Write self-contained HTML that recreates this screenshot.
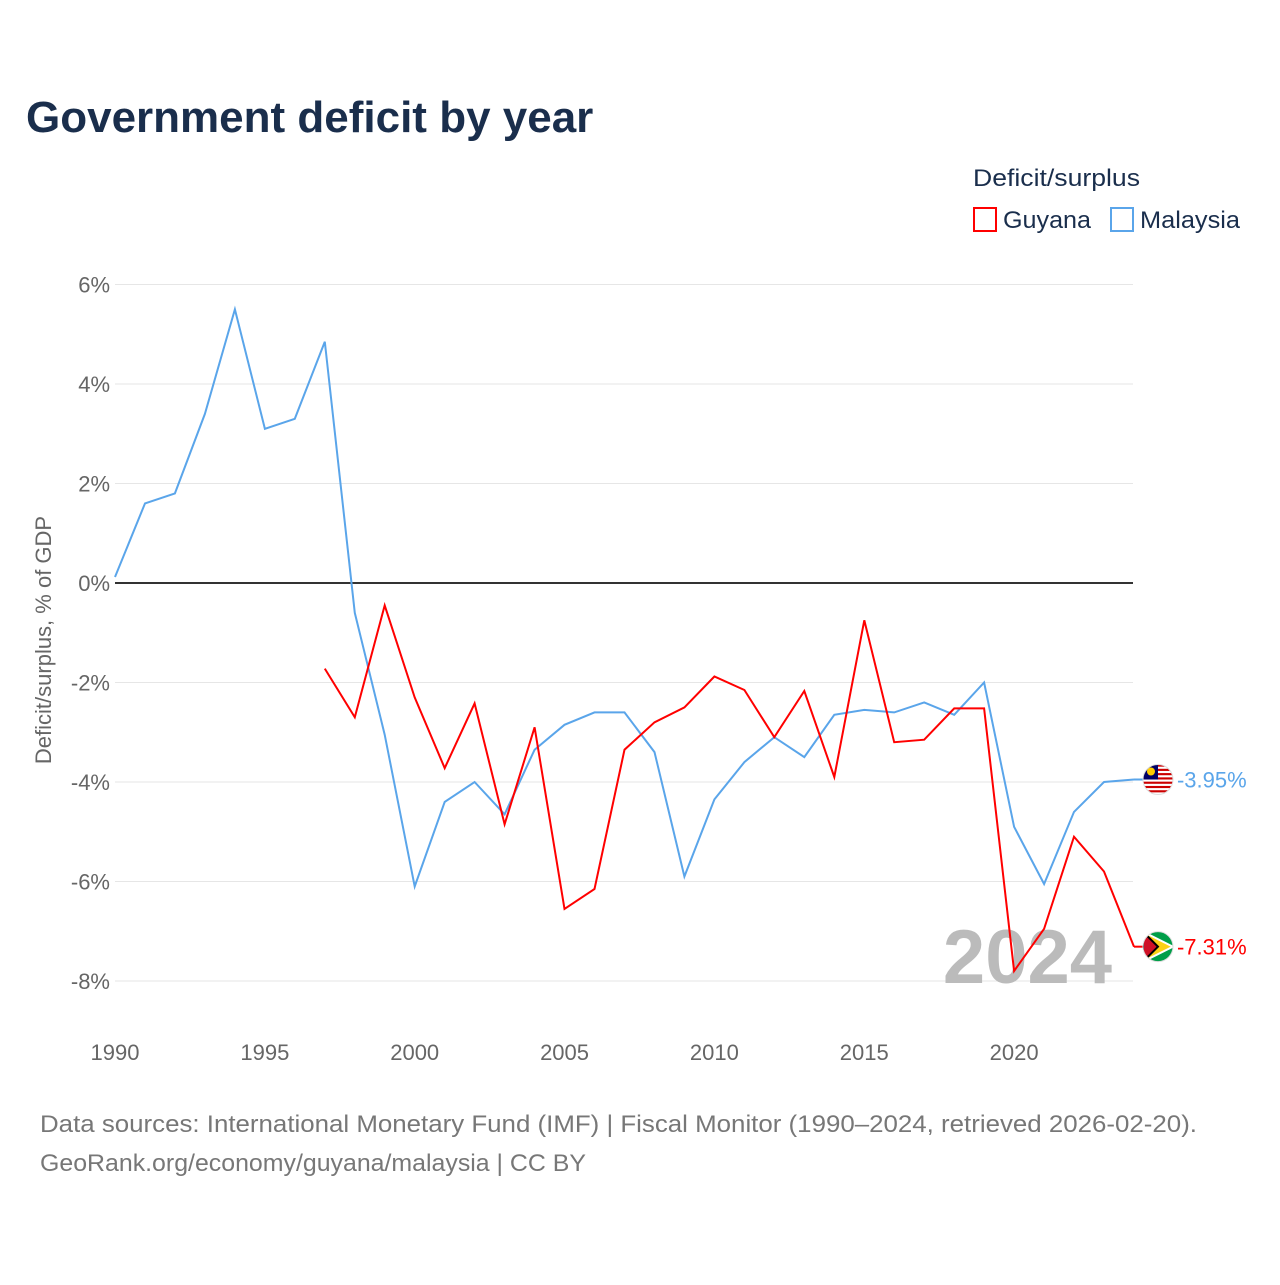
<!DOCTYPE html>
<html><head><meta charset="utf-8"><style>
body{margin:0;width:1280px;height:1280px;background:#fff;font-family:"Liberation Sans",sans-serif;overflow:hidden}
svg text{font-family:"Liberation Sans",sans-serif}
</style></head><body>
<svg id="chart" width="1280" height="1280">
<text x="26" y="132" font-size="44" font-weight="bold" fill="#1a2e4c">Government deficit by year</text>
<text x="973" y="186" font-size="24" fill="#1a2e4c" textLength="167" lengthAdjust="spacingAndGlyphs">Deficit/surplus</text>
<g><rect x="974" y="208" width="22" height="23" fill="none" stroke="#f00" stroke-width="2"/><text x="1003" y="228" font-size="24" fill="#1a2e4c" textLength="88" lengthAdjust="spacingAndGlyphs">Guyana</text></g>
<g><rect x="1111" y="208" width="22" height="23" fill="none" stroke="#5aa5ea" stroke-width="2"/><text x="1140" y="228" font-size="24" fill="#1a2e4c" textLength="100" lengthAdjust="spacingAndGlyphs">Malaysia</text></g>
<g id="grid"></g>
<text transform="translate(51,640) rotate(-90)" text-anchor="middle" font-size="22" fill="#666">Deficit/surplus, % of GDP</text>
<text x="1112" y="983" text-anchor="end" font-size="76" font-weight="bold" fill="#bbb">2024</text>
<g id="series"></g>
<text x="40" y="1132" font-size="24" fill="#777" textLength="1157" lengthAdjust="spacingAndGlyphs">Data sources: International Monetary Fund (IMF) | Fiscal Monitor (1990–2024, retrieved 2026-02-20).</text>
<text x="40" y="1171" font-size="24" fill="#777" textLength="546" lengthAdjust="spacingAndGlyphs">GeoRank.org/economy/guyana/malaysia | CC BY</text>
</svg>
<script>
const years=[];for(let y=1990;y<=2024;y++)years.push(y);
const malaysia=[0.12,1.6,1.8,3.4,5.5,3.1,3.3,4.85,-0.6,-3.05,-6.1,-4.4,-4.0,-4.65,-3.35,-2.85,-2.6,-2.6,-3.4,-5.9,-4.35,-3.6,-3.1,-3.5,-2.65,-2.55,-2.6,-2.4,-2.65,-2.0,-4.9,-6.05,-4.6,-4.0,-3.95];
const guyana=[null,null,null,null,null,null,null,-1.72,-2.7,-0.45,-2.3,-3.72,-2.42,-4.85,-2.9,-6.55,-6.15,-3.35,-2.8,-2.5,-1.88,-2.15,-3.1,-2.17,-3.9,-0.75,-3.2,-3.15,-2.52,-2.52,-7.8,-6.95,-5.1,-5.8,-7.31];
const yTicks=[6,4,2,0,-2,-4,-6,-8];
const xTicks=[1990,1995,2000,2005,2010,2015,2020];
const X=y=>115+(y-1990)*29.97;
const Y=v=>583-v*49.75;
const NS="http://www.w3.org/2000/svg";
function mk(t,a,p){const e=document.createElementNS(NS,t);for(const k in a)e.setAttribute(k,a[k]);p.appendChild(e);return e;}
const grid=document.getElementById('grid'),ser=document.getElementById('series');
yTicks.forEach(v=>{
 const l=mk('line',{x1:115,x2:1133,y1:Y(v),y2:Y(v),stroke:v===0?'#333':'#e6e6e6','stroke-width':v===0?2:1},grid);
 
 
 const t=mk('text',{x:110,y:Y(v)+8,'text-anchor':'end','font-size':22,fill:'#666'},grid);
 t.textContent=v+'%';
 
 
});
xTicks.forEach(yr=>{
 const t=mk('text',{x:X(yr),y:1060,'text-anchor':'middle','font-size':22,fill:'#666'},grid);
 t.textContent=yr;
 
 
});
function line(vals,color,name){
 let d='';vals.forEach((v,i)=>{if(v===null)return;d+=(d?'L':'M')+X(years[i]).toFixed(1)+','+Y(v).toFixed(1);});
 const p=mk('path',{d:d,fill:'none',stroke:color,'stroke-width':2},ser);
 
 
}
line(malaysia,'#5aa5ea','malaysia-line');
line(guyana,'#f00','guyana-line');
function endLabel(vals,color,name,flag){
 const v=vals[vals.length-1],x=X(2024),y=Y(v);
 mk('line',{x1:x,x2:x+10,y1:y,y2:y,stroke:color,'stroke-width':2},ser);
 const g=mk('g',{},ser);
 
 
 mk('clipPath',{id:'c'+name},g).appendChild(document.createElementNS(NS,'circle')).setAttribute('r',15);
 document.querySelector('#c'+name+' circle').setAttribute('cx',x+24);
 document.querySelector('#c'+name+' circle').setAttribute('cy',y);
 const cg=mk('g',{'clip-path':'url(#c'+name+')'},g);
 if(flag==='my'){
  mk('rect',{x:x+9,y:y-15,width:30,height:30,fill:'#fff'},cg);
  for(let i=0;i<7;i++)mk('rect',{x:x+9,y:y-15+i*30/7,width:30,height:15/7,fill:'#cc0000'},cg);
  mk('rect',{x:x+9,y:y-15,width:15,height:15,fill:'#010066'},cg);
  mk('circle',{cx:x+17,cy:y-8,r:4,fill:'#fc0'},cg);
 }else{
  mk('rect',{x:x+9,y:y-15,width:30,height:30,fill:'#009e49'},cg);
  mk('path',{d:`M${x+9},${y-15}L${x+39},${y}L${x+9},${y+15}Z`,fill:'#fcd116',stroke:'#fff','stroke-width':2},cg);
  mk('path',{d:`M${x+9},${y-15}L${x+24},${y}L${x+9},${y+15}Z`,fill:'#ce1126',stroke:'#000','stroke-width':2},cg);
 }
 mk('circle',{cx:x+24,cy:y,r:15,fill:'none',stroke:'#ddd','stroke-width':1},g);
 const t=mk('text',{x:x+43,y:y+8,'font-size':22,fill:color},ser);
 t.textContent=v.toFixed(2)+'%';
 
 
}
endLabel(malaysia,'#5aa5ea','malaysia','my');
endLabel(guyana,'#f00','guyana','gy');
</script>
</body></html>
